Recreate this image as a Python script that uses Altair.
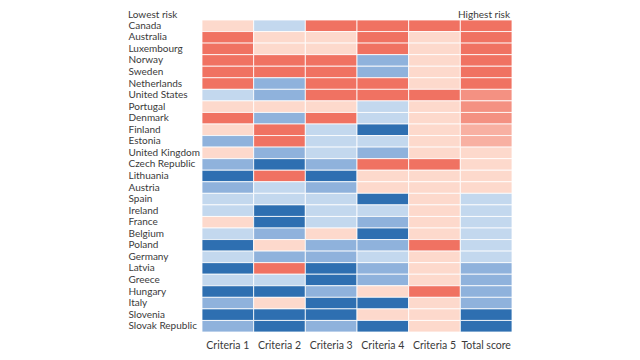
import altair as alt
import pandas as pd

countries = ["Canada", "Australia", "Luxembourg", "Norway", "Sweden", "Netherlands",
             "United States", "Portugal", "Denmark", "Finland", "Estonia", "United Kingdom",
             "Czech Republic", "Lithuania", "Austria", "Spain", "Ireland", "France",
             "Belgium", "Poland", "Germany", "Latvia", "Greece", "Hungary", "Italy",
             "Slovenia", "Slovak Republic"]
criteria = ["Criteria 1", "Criteria 2", "Criteria 3", "Criteria 4", "Criteria 5", "Total score"]

# risk level: 1 = lowest risk (dark blue) ... 5 = highest risk (red)
crit1 = [4, 5, 5, 5, 5, 5, 3, 4, 5, 4, 2, 4, 2, 1, 2, 3, 3, 4, 3, 1, 3, 1, 3, 1, 2, 1, 2]
crit2 = [3, 4, 4, 5, 5, 2, 2, 4, 2, 5, 5, 2, 1, 5, 3, 3, 1, 1, 2, 4, 2, 5, 3, 1, 4, 1, 1]
crit3 = [5, 4, 4, 5, 5, 5, 5, 4, 5, 3, 3, 3, 2, 1, 2, 3, 3, 3, 4, 2, 2, 1, 1, 2, 1, 1, 2]
crit4 = [5, 5, 5, 2, 2, 5, 5, 3, 3, 1, 3, 2, 5, 4, 4, 1, 3, 2, 1, 2, 3, 2, 2, 4, 1, 4, 1]
crit5 = [5, 4, 4, 4, 4, 4, 5, 4, 4, 4, 4, 4, 5, 4, 4, 4, 4, 4, 4, 5, 4, 4, 4, 5, 4, 4, 4]
total = [5, 5, 5, 5, 5, 5, 4.7, 4.7, 4.7, 4.4, 4.4, 4, 4, 4, 4, 3, 3, 3, 3, 3, 3, 2, 2, 2, 2, 1, 1]

levels = [1, 2, 3, 4, 5]
palette = ["#2e6fb1", "#8fb2dc", "#c3d8ee", "#fdd9cc", "#f07262"]

rows = []
for series, name in zip([crit1, crit2, crit3, crit4, crit5, total], criteria):
    for c, v in zip(countries, series):
        rows.append({"country": c, "criterion": name, "risk": v})
df = pd.DataFrame(rows)

font = "Lato"
txt = "#3a3a3a"

heat = alt.Chart(df).mark_rect(stroke="white", strokeWidth=0.8).encode(
    x=alt.X("criterion:N", sort=criteria, title=None,
            axis=alt.Axis(orient="bottom", labelAngle=0, ticks=False, domain=False,
                          labelPadding=8, labelFontSize=10.5, labelColor=txt,
                          labelFont=font)),
    y=alt.Y("country:N", sort=countries, title=None,
            axis=alt.Axis(labelAlign="left", labelPadding=74, ticks=False, domain=False,
                          labelFontSize=10, labelColor=txt, labelFont=font)),
    color=alt.Color("risk:Q", legend=None,
                    scale=alt.Scale(domain=levels, range=palette, interpolate="rgb")),
)

low = alt.Chart(pd.DataFrame({"t": ["Lowest risk"]})).mark_text(
    align="left", baseline="top", fontSize=10, font=font, color=txt
).encode(x=alt.value(-74), y=alt.value(-10), text="t:N")

high = alt.Chart(pd.DataFrame({"t": ["Highest risk"]})).mark_text(
    align="right", baseline="top", fontSize=10, font=font, color=txt
).encode(x=alt.value(308), y=alt.value(-10), text="t:N")

chart = alt.layer(heat, low, high).properties(
    width=310, height=312,
    autosize=alt.AutoSizeParams(type="none"),
    padding={"left": 194, "top": 12, "right": 110, "bottom": 20},
).configure_view(stroke=None)

chart.save("out.html", embed_options={"renderer": "svg", "actions": False})
